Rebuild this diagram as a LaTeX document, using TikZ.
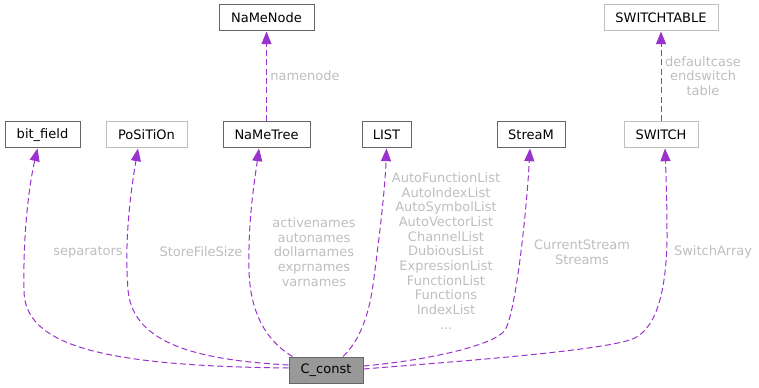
\documentclass[tikz,border=0pt]{standalone}
\usepackage{fontspec}
\setmainfont{DejaVu Sans}
\usetikzlibrary{arrows.meta,calc}

\definecolor{boxdark}{HTML}{666666}
\definecolor{boxlight}{HTML}{BFBFBF}
\definecolor{boxfill}{HTML}{999999}
\definecolor{edgepurple}{HTML}{9A32CD}
\definecolor{labelgrey}{HTML}{BEBEBE}

\begin{document}
\begin{tikzpicture}[x=0.75pt,y=-0.75pt,
  font=\fontsize{9.75}{11}\selectfont,
  box/.style={draw=boxdark,line width=0.75pt,minimum height=19.5pt,inner sep=0pt},
  faint/.style={box,draw=boxlight},
  rel/.style={draw=edgepurple,line width=0.75pt,dash pattern=on 4.5pt off 2.5pt,
    -{Triangle[length=9.5pt,width=7.5pt]}},
  lbl/.style={text=labelgrey,align=center,inner sep=0pt}]
\useasboundingbox (0,0) rectangle (759,388);
% classes
\node[box,minimum width=71.25pt] (namenode) at (266.5,18) {NaMeNode};
\node[faint,minimum width=85.5pt] (switchtable) at (661,18) {SWITCHTABLE};
\node[box,minimum width=56.25pt] (bitfield) at (42.5,135) {bit\_field};
\node[faint,minimum width=60.75pt] (position) at (146.5,135) {PoSiTiOn};
\node[box,minimum width=65.25pt] (nametree) at (266.5,135) {NaMeTree};
\node[box,minimum width=36.75pt] (list) at (386.5,135) {LIST};
\node[box,minimum width=51pt] (stream) at (531,135) {StreaM};
\node[faint,minimum width=55.5pt] (switch) at (661,135) {SWITCH};
\node[box,fill=boxfill,minimum width=55.5pt] (cconst) at (326,370) {C\_const};
% usage edges
\draw[rel] (nametree) -- (namenode);
\draw[rel] (switch) -- (switchtable);
\draw[rel] ($(cconst.west)+(0,-2)$) .. controls (100,366) and (24,345) .. (24,290)
  .. controls (23,240) and (28,190) .. ($(bitfield.south)+(-5,0)$);
\draw[rel] ($(cconst.west)+(0,-5)$) .. controls (200,360) and (133,345) .. (128,290)
  .. controls (124,240) and (131,190) .. ($(position.south)+(-8.5,0)$);
\draw[rel] ($(cconst.north west)+(4,0)$) .. controls (268,342) and (250,315) .. (249,270)
  .. controls (248,220) and (254,185) .. ($(nametree.south)+(-7.5,0)$);
\draw[rel] ($(cconst.north)+(17,0)$) .. controls (358,342) and (368,320) .. (373,285)
  .. controls (379,240) and (385,190) .. (list.south);
\draw[rel] ($(cconst.east)+(0,-4)$) .. controls (430,360) and (495,345) .. (505,330)
  .. controls (515,315) and (526,220) .. ($(stream.south)+(-1,0)$);
\draw[rel] ($(cconst.east)+(0,-1)$) .. controls (450,362) and (590,352) .. (630,340)
  .. controls (655,332) and (666,295) .. (667,240)
  .. controls (667,200) and (666,175) .. ($(switch.south)+(4,0)$);
% member names
\node[lbl] (lnamenode) at (305,76) {namenode};
\node[lbl] (lswitchtable) at (703,76) {defaultcase\\endswitch\\table};
\node[lbl] (lbitfield) at (88,252) {separators};
\node[lbl] (lposition) at (201,252) {StoreFileSize};
\node[lbl] (lnametree) at (314,252) {activenames\\autonames\\dollarnames\\exprnames\\varnames};
\node[lbl] (llist) at (446,251) {AutoFunctionList\\AutoIndexList\\AutoSymbolList\\AutoVectorList\\ChannelList\\DubiousList\\ExpressionList\\FunctionList\\Functions\\IndexList\\...};
\node[lbl] (lstream) at (582,252) {CurrentStream\\Streams};
\node[lbl] (lswitch) at (713,252) {SwitchArray};
\end{tikzpicture}
\end{document}
